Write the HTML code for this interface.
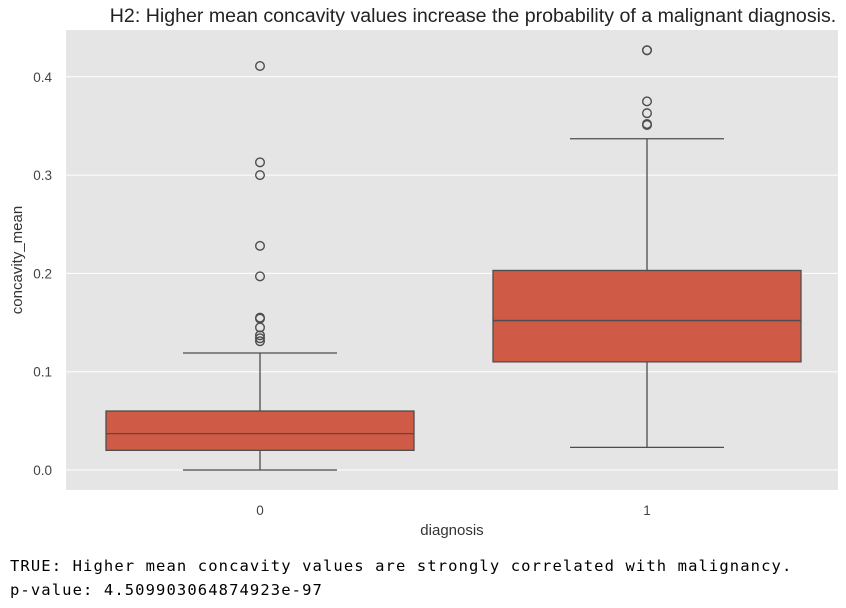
<!DOCTYPE html>
<html><head><meta charset="utf-8"><style>
body{margin:0;background:#fff;width:846px;height:608px;overflow:hidden;font-family:"Liberation Sans",sans-serif}
#out{position:absolute;left:10px;top:554px;font-family:"DejaVu Sans Mono","Liberation Mono",monospace;font-size:15.5px;letter-spacing:1.1px;line-height:24px;color:#000;white-space:pre}
</style></head><body>
<svg id="chart" width="846" height="550" style="position:absolute;left:0;top:0">
<text x="473" y="22" text-anchor="middle" font-size="19.6" fill="#222">H2: Higher mean concavity values increase the probability of a malignant diagnosis.</text>
<rect x="66" y="30" width="772" height="460" fill="#e5e5e5"/>
<g id="grid"></g><g id="marks"></g>
<text transform="translate(22,260) rotate(-90)" text-anchor="middle" font-size="15" fill="#333">concavity_mean</text>
<text x="452" y="535" text-anchor="middle" font-size="15" fill="#333">diagnosis</text>
</svg>
<div id="out">TRUE: Higher mean concavity values are strongly correlated with malignancy.
p-value: 4.509903064874923e-97</div>
<script>
const categories=["0","1"];
const q1=[0.020,0.110];
const medians=[0.037,0.152];
const q3=[0.060,0.203];
const whiskLow=[0.0,0.023];
const whiskHigh=[0.119,0.337];
const outliers0=[0.411,0.313,0.300,0.228,0.197,0.155,0.154,0.145,0.137,0.134,0.131];
const outliers1=[0.427,0.427,0.375,0.363,0.352,0.351];
const yTicks=[0.0,0.1,0.2,0.3,0.4];
const outliers=[outliers0,outliers1];
const NS="http://www.w3.org/2000/svg";
const y=v=>470-v*983;
const x=i=>260+i*387;
const halfW=154;
function mk(tag,attrs,parent){const e=document.createElementNS(NS,tag);for(const k in attrs)e.setAttribute(k,attrs[k]);parent.appendChild(e);return e;}
const grid=document.getElementById('grid'),marks=document.getElementById('marks'),svg=document.getElementById('chart');
yTicks.forEach(t=>{
 const l=mk('line',{x1:66,x2:838,y1:y(t),y2:y(t),stroke:'#fff','stroke-width':1},grid);
 
 
 const tx=mk('text',{x:52,y:y(t)+5,'text-anchor':'end','font-size':13.5,fill:'#444'},svg);
 tx.textContent=t.toFixed(1);
 
 
});
categories.forEach((c,i)=>{
 const cx=x(i),col='#4d4d4d';
 const g=mk('g',{},marks);
 
 
 mk('line',{x1:cx,x2:cx,y1:y(whiskLow[i]),y2:y(q1[i]),stroke:col,'stroke-width':1.3},g);
 mk('line',{x1:cx,x2:cx,y1:y(q3[i]),y2:y(whiskHigh[i]),stroke:col,'stroke-width':1.3},g);
 mk('line',{x1:cx-halfW/2,x2:cx+halfW/2,y1:y(whiskLow[i]),y2:y(whiskLow[i]),stroke:col,'stroke-width':1.3},g);
 mk('line',{x1:cx-halfW/2,x2:cx+halfW/2,y1:y(whiskHigh[i]),y2:y(whiskHigh[i]),stroke:col,'stroke-width':1.3},g);
 mk('rect',{x:cx-halfW,y:y(q3[i]),width:halfW*2,height:y(q1[i])-y(q3[i]),fill:'#cf5a45',stroke:col,'stroke-width':1.3},g);
 mk('line',{x1:cx-halfW,x2:cx+halfW,y1:y(medians[i]),y2:y(medians[i]),stroke:col,'stroke-width':1.3},g);
 outliers[i].forEach(v=>{
  const o=mk('circle',{cx:cx,cy:y(v),r:4.3,fill:'none',stroke:col,'stroke-width':1.4},g);
  
  
 });
 const tx=mk('text',{x:cx,y:515,'text-anchor':'middle','font-size':13.5,fill:'#444'},svg);
 tx.textContent=c;
 
 
});
</script>
</body></html>
